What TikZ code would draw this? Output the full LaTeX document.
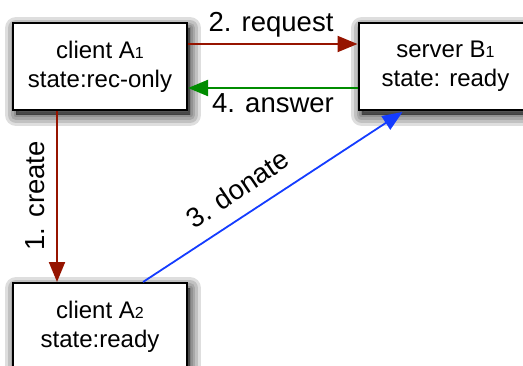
\documentclass[tikz,border=0pt]{standalone}
\usepackage{fontspec}
\setmainfont{Liberation Sans}
\usetikzlibrary{arrows.meta,shadows}
\definecolor{reqred}{RGB}{150,20,0}
\definecolor{ansgreen}{RGB}{0,140,0}
\definecolor{donblue}{RGB}{20,60,255}
\newcommand\idx[1]{{\fontsize{16}{16}\selectfont #1}}
\tikzset{
  softlayer/.style={general shadow={draw=black, fill=black, opacity=0.13,
      line width=#1, line join=round, shadow xshift=3pt, shadow yshift=-5pt}},
  peer/.style={draw=black, line width=2pt, fill=white, minimum width=174pt,
    minimum height=87pt, align=center, inner sep=0pt,
    font=\fontsize{24}{29}\selectfont,
    softlayer=22pt, softlayer=16pt, softlayer=10pt, softlayer=5pt, softlayer=1pt},
  msg/.style={line width=2pt, -{Triangle[length=20pt,width=16pt]}},
  lbl/.style={font=\fontsize{27.5}{30}\selectfont, inner sep=0pt}
}
\begin{document}
\begin{tikzpicture}[x=1pt,y=1pt]
  \useasboundingbox (0,0) rectangle (523,365);
  \clip (0,0) rectangle (523,365);
  % peers
  \node[peer] (a1) at (100,298.5) {client A\idx{1}\\state:rec-only};
  \node[peer] (b1) at (445.5,298.5) {server B\idx{1}\\state: ready};
  \node[peer] (a2) at (100,38.5) {client A\idx{2}\\state:ready};
  % anchor points along the box borders
  \coordinate (a1r) at ([yshift=22.5pt]a1.east);
  \coordinate (b1l) at ([yshift=22.5pt]b1.west);
  \coordinate (b1la) at ([yshift=-21.5pt]b1.west);
  \coordinate (a1ra) at ([yshift=-21.5pt]a1.east);
  \coordinate (a1b) at ([xshift=-43pt]a1.south);
  \coordinate (a2t) at ([xshift=-43pt]a2.north);
  \coordinate (a2d) at ([xshift=43pt]a2.north);
  \coordinate (b1d) at ([xshift=-43pt,yshift=-1pt]b1.south);
  % messages
  \draw[msg, reqred] (a1b) -- (a2t);
  \draw[msg, reqred] (a1r) -- (b1l);
  \draw[msg, ansgreen] (b1la) -- (a1ra);
  \draw[msg, donblue, line width=1.8pt] (a2d) -- (b1d);
  % labels
  \node[lbl, anchor=base] (lreq) at (271,333) {2. request};
  \node[lbl, anchor=base] (lans) at (273,252) {4. answer};
  \node[lbl, anchor=base, rotate=90] (lcre) at (44,169) {1. create};
  \node[lbl, anchor=base, rotate=34] (ldon) at (243,168) {3. donate};
\end{tikzpicture}
\end{document}
